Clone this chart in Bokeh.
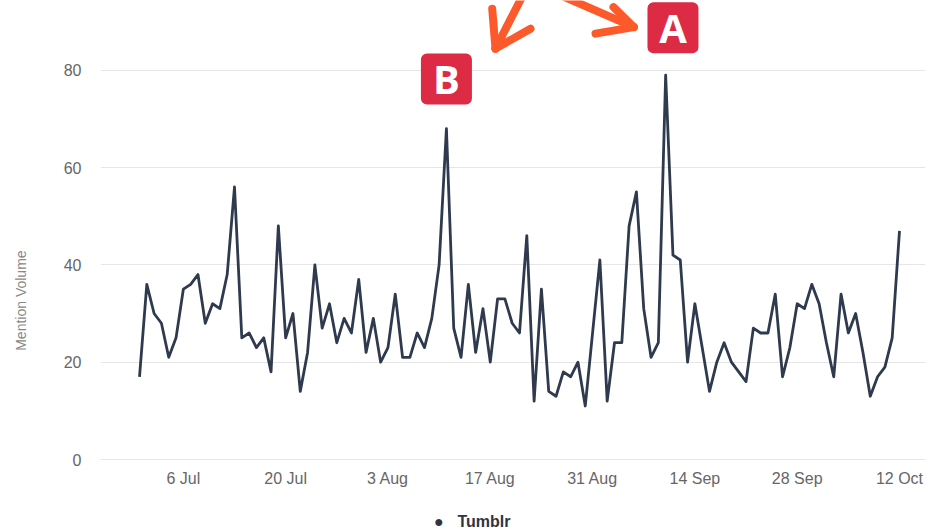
import numpy as np
import pandas as pd
from bokeh.plotting import figure
from bokeh.models import (ColumnDataSource, FixedTicker, Range1d, LinearAxis)
from bokeh.core.properties import value
from bokeh.embed import file_html
from bokeh.resources import INLINE

# ---------------- data ----------------
start_date = "2020-06-30"
mentions = [17, 36, 30, 28, 21, 25, 35, 36, 38, 28,
            32, 31, 38, 56, 25, 26, 23, 25, 18, 48,
            25, 30, 14, 22, 40, 27, 32, 24, 29, 26,
            37, 22, 29, 20, 23, 34, 21, 21, 26, 23,
            29, 40, 68, 27, 21, 36, 22, 31, 20, 33,
            33, 28, 26, 46, 12, 35, 14, 13, 18, 17,
            20, 11, 26, 41, 12, 24, 24, 48, 55, 31,
            21, 24, 79, 42, 41, 20, 32, 23, 14, 20,
            24, 20, 18, 16, 27, 26, 26, 34, 17, 23,
            32, 31, 36, 32, 24, 17, 34, 26, 30, 22,
            13, 17, 19, 25, 47]
series_name = "Tumblr"
y_title = "Mention Volume"
y_ticks = [0, 20, 40, 60, 80]
x_tick_dates = ["2020-07-06", "2020-07-20", "2020-08-03", "2020-08-17",
                "2020-08-31", "2020-09-14", "2020-09-28", "2020-10-12"]
x_tick_labels = ["6 Jul", "20 Jul", "3 Aug", "17 Aug",
                 "31 Aug", "14 Sep", "28 Sep", "12 Oct"]

# annotation markers (date, value)
marker_labels = ["A", "B"]
marker_dates = ["2020-09-11 00:00", "2020-08-11 00:00"]
marker_values = [88.7, 78.2]

DAY = 86400000.0
dates = pd.date_range(start_date, periods=len(mentions), freq="D")
t_ms = dates.astype("int64") // 10**6
t0 = float(t_ms[0])
t1 = float(t_ms[-1])

src = ColumnDataSource(dict(t=t_ms.astype(float), v=mentions))

W, H = 937, 532
p = figure(width=W, height=H, output_backend="svg", toolbar_location=None,
           x_range=Range1d(t0 - 5.337 * DAY, t1 + 3.558 * DAY),
           y_range=Range1d(0, 80 * 461 / 391),
           min_border_left=100, min_border_right=12, min_border_top=0,
           min_border_bottom=71)
p.outline_line_color = None
p.background_fill_color = "white"
p.border_fill_color = "white"

FONT = "Liberation Sans"

# main axes
p.yaxis.ticker = FixedTicker(ticks=y_ticks)
p.yaxis.axis_line_color = None
p.yaxis.major_tick_line_color = None
p.yaxis.minor_tick_line_color = None
p.yaxis.major_tick_out = 0
p.yaxis.major_label_standoff = 19
p.yaxis.major_label_text_font = FONT
p.yaxis.major_label_text_font_size = "16px"
p.yaxis.major_label_text_color = "#666666"

tick_ms = [float(pd.Timestamp(d).value // 10**6) for d in x_tick_dates]
p.xaxis.ticker = FixedTicker(ticks=tick_ms)
p.xaxis.major_label_overrides = {k: lab for k, lab in zip(tick_ms, x_tick_labels)}
p.xaxis.axis_line_color = "#e6e6e6"
p.xaxis.major_tick_line_color = None
p.xaxis.minor_tick_line_color = None
p.xaxis.major_tick_out = 0
p.xaxis.major_label_standoff = 10
p.xaxis.major_label_text_font = FONT
p.xaxis.major_label_text_font_size = "16px"
p.xaxis.major_label_text_color = "#666666"

p.xgrid.visible = False
p.ygrid.ticker = FixedTicker(ticks=y_ticks)
p.ygrid.grid_line_color = "#e6e6e6"
p.ygrid.grid_line_width = 1

# helper ranges measured in screen pixels, used to place the axis title and
# the legend entry where the reference shows them
p.extra_y_ranges = {"ypx": Range1d(461, 0)}
p.extra_x_ranges = {"xpx": Range1d(100, 925)}

title_axis = LinearAxis(y_range_name="ypx",
                        ticker=FixedTicker(ticks=[251]),
                        major_label_overrides={251: y_title},
                        major_label_orientation=np.pi / 2,
                        axis_line_color=None, major_tick_line_color=None,
                        minor_tick_line_color=None, major_tick_out=0,
                        major_label_standoff=39,
                        major_label_text_font=FONT,
                        major_label_text_font_size="14px",
                        major_label_text_color="#888888")
p.add_layout(title_axis, "left")

legend_pos = [438.3, 483.5]
legend_txt = ["\u25cf", series_name]
legend_axis = LinearAxis(x_range_name="xpx",
                         ticker=FixedTicker(ticks=legend_pos),
                         major_label_overrides={k: t for k, t in zip(legend_pos, legend_txt)},
                         axis_line_color=None, major_tick_line_color=None,
                         minor_tick_line_color=None, major_tick_out=0,
                         major_label_standoff=23,
                         major_label_text_font=FONT,
                         major_label_text_font_size="16px",
                         major_label_text_font_style="bold",
                         major_label_text_color="#2f3540")
p.add_layout(legend_axis, "below")

# series line
p.line(x="t", y="v", source=src, line_color="#2f3a4f", line_width=2.8,
       line_join="round")

# annotation decorations (arrows and labelled boxes)
def pxd(xp, yp):
    return (t0 + (xp - 139) / 7.3077 * DAY, (461 - yp) / 4.8875)

arrow_px = [
    ((521.7, -4), (495, 48.3)), ((495, 48.3), (491.7, 8.3)), ((495, 48.3), (530, 28.3)),
    ((563, -4), (633.3, 26.7)), ((633.3, 26.7), (613, 6.7)), ((633.3, 26.7), (595, 33.3)),
]
x0s, y0s, x1s, y1s = [], [], [], []
for (a, b) in arrow_px:
    xa, ya = pxd(*a)
    xb, yb = pxd(*b)
    x0s.append(xa); y0s.append(ya); x1s.append(xb); y1s.append(yb)
p.segment(x0=x0s, y0=y0s, x1=x1s, y1=y1s, line_color="#fd5a2b",
          line_width=8, line_cap="round")

m_t = [float(pd.Timestamp(d).value // 10**6) for d in marker_dates]
msrc = ColumnDataSource(dict(t=m_t, v=marker_values, lab=marker_labels))
p.rect(x="t", y="v", width=51, height=51, width_units="screen",
       height_units="screen", source=msrc, fill_color="#dd2b45",
       line_color=None, border_radius=6)
p.text(x="t", y="v", text="lab", source=msrc, text_align="center",
       text_baseline="middle", text_font=value("Open Sans"),
       text_font_style="bold", text_font_size="40px", text_color="white")

open("out.html", "w").write(file_html(p, INLINE))
